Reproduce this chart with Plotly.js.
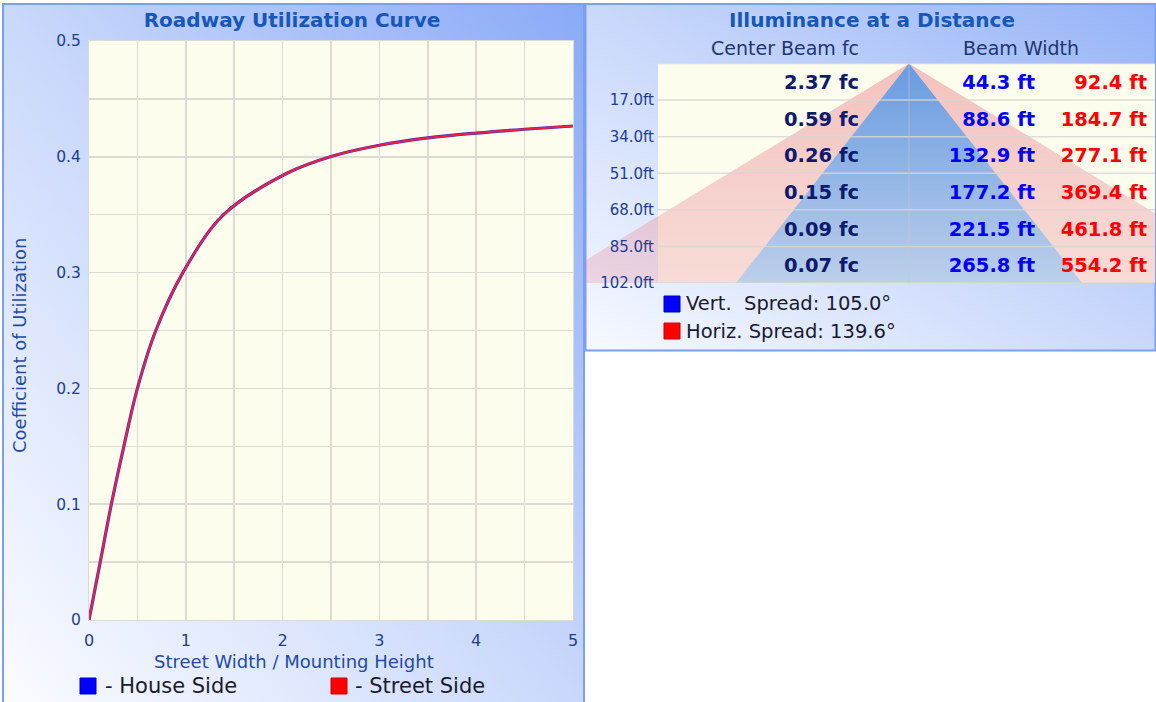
<!DOCTYPE html>
<html><head><meta charset="utf-8">
<script src="https://cdn.plot.ly/plotly-3.0.1.min.js"></script>
<style>html,body{margin:0;padding:0;background:#fff;overflow:hidden}#chart{width:1156px;height:702px}</style>
</head><body><div id="chart"></div>
<script>
// ---------- DATA ----------
// Roadway utilization curve
const widthRatio = [0, 0.116, 0.231, 0.36, 0.5, 0.69, 0.97, 1.39, 2.05, 2.5, 3.0, 3.5, 4.0, 4.5, 5.0];
const cuHouseSide = [0, 0.050, 0.100, 0.150, 0.200, 0.250, 0.300, 0.350, 0.386, 0.4003, 0.4100, 0.4163, 0.4205, 0.4238, 0.4266];
const cuStreetSide = [0, 0.050, 0.100, 0.150, 0.200, 0.250, 0.300, 0.350, 0.386, 0.4003, 0.4100, 0.4163, 0.4205, 0.4238, 0.4266];
const seriesNames = ['- House Side', '- Street Side'];

// Illuminance at a distance
const distancesFt = [17, 34, 51, 68, 85, 102];
const distanceLabels = ['17.0ft', '34.0ft', '51.0ft', '68.0ft', '85.0ft', '102.0ft'];
const centerBeamFc = [2.37, 0.59, 0.26, 0.15, 0.09, 0.07];
const vertBeamWidthFt = [44.3, 88.6, 132.9, 177.2, 221.5, 265.8];
const horizBeamWidthFt = [92.4, 184.7, 277.1, 369.4, 461.8, 554.2];
const vertSpreadDeg = 105.0;
const horizSpreadDeg = 139.6;

// ---------- LAYOUT HELPERS ----------
const W = 1156, H = 702;
const px = v => v / W;            // pixel x -> paper
const py = v => 1 - v / H;        // pixel y -> paper
const FONT = 'DejaVu Sans, Verdana, sans-serif';
const AXIS_BLUE = '#1c3f94';
const TITLE_BLUE = '#1657b8';
const LABEL_BLUE = '#1f4ba5';

// right panel geometry (pixels)
const CENTER_PX = 909, PX_PER_FT = 1.302;
const ft = p => (p - CENTER_PX) / PX_PER_FT;
const RIGHT_L = 586, RIGHT_R = 1155, TABLE_L = 658, TABLE_T = 63.5, TABLE_B = 283;
const maxD = distancesFt[distancesFt.length - 1];
const rowH = distancesFt[0];

function gradientImage(c0, c1) {
  const svg = '<svg xmlns="http://www.w3.org/2000/svg" width="100" height="100" viewBox="0 0 100 100" preserveAspectRatio="none">' +
    '<defs><linearGradient id="g" x1="0" y1="1" x2="1" y2="0">' +
    '<stop offset="0" stop-color="' + c0 + '"/><stop offset="0.5" stop-color="#c9d8fb"/><stop offset="1" stop-color="' + c1 + '"/></linearGradient></defs>' +
    '<rect x="0" y="0" width="100" height="100" fill="url(#g)"/></svg>';
  return 'data:image/svg+xml;charset=utf-8,' + encodeURIComponent(svg);
}

// ---------- TRACES ----------
const traces = [];
traces.push({
  x: widthRatio, y: cuHouseSide, name: seriesNames[0], type: 'scatter', mode: 'lines',
  line: {color: '#3a2fd0', width: 3.2, shape: 'spline', smoothing: 1},
  xaxis: 'x', yaxis: 'y', hoverinfo: 'skip'
});
traces.push({
  x: widthRatio, y: cuStreetSide, name: seriesNames[1], type: 'scatter', mode: 'lines',
  line: {color: '#f0203c', width: 2, shape: 'spline', smoothing: 1},
  xaxis: 'x', yaxis: 'y', hoverinfo: 'skip'
});

// beam triangles
const hHalf = horizBeamWidthFt[horizBeamWidthFt.length - 1] / 2;
const vHalf = vertBeamWidthFt[vertBeamWidthFt.length - 1] / 2;
traces.push({
  x: [0, -hHalf, hHalf, 0], y: [0, maxD, maxD, 0], type: 'scatter', mode: 'none',
  fill: 'toself',
  fillgradient: {type: 'vertical', start: 0, stop: maxD,
    colorscale: [[0, 'rgba(232,120,130,0.45)'], [1, 'rgba(235,150,165,0.33)']]},
  xaxis: 'x2', yaxis: 'y2', hoverinfo: 'skip'
});
traces.push({
  x: [0, -vHalf, vHalf, 0], y: [0, maxD, maxD, 0], type: 'scatter', mode: 'none',
  fill: 'toself',
  fillgradient: {type: 'vertical', start: 0, stop: maxD,
    colorscale: [[0, 'rgba(104,155,224,1)'], [1, 'rgba(188,207,234,1)']]},
  xaxis: 'x2', yaxis: 'y2', hoverinfo: 'skip'
});

const rowMid = distancesFt.map(d => d - rowH / 2 + 1.2);
traces.push({
  x: distancesFt.map(() => ft(859)), y: rowMid, type: 'scatter', mode: 'text',
  text: centerBeamFc.map(v => v.toFixed(2) + ' fc'), textposition: 'middle left',
  textfont: {family: FONT, size: 19.5, color: '#0d1a6e', weight: 'bold'},
  xaxis: 'x2', yaxis: 'y3', hoverinfo: 'skip', cliponaxis: false
});
traces.push({
  x: distancesFt.map(() => ft(1035)), y: rowMid, type: 'scatter', mode: 'text',
  text: vertBeamWidthFt.map(v => v.toFixed(1) + ' ft'), textposition: 'middle left',
  textfont: {family: FONT, size: 19.5, color: '#0000ff', weight: 'bold'},
  xaxis: 'x2', yaxis: 'y2', hoverinfo: 'skip', cliponaxis: false
});
traces.push({
  x: distancesFt.map(() => ft(1147)), y: rowMid, type: 'scatter', mode: 'text',
  text: horizBeamWidthFt.map(v => v.toFixed(1) + ' ft'), textposition: 'middle left',
  textfont: {family: FONT, size: 19.5, color: '#ff0000', weight: 'bold'},
  xaxis: 'x2', yaxis: 'y2', hoverinfo: 'skip', cliponaxis: false
});

// ---------- SHAPES ----------
const shapes = [];
// panel borders
shapes.push({type: 'rect', xref: 'paper', yref: 'paper', x0: px(3), x1: px(584), y0: py(4), y1: py(710),
  line: {color: '#7c9ef3', width: 2}, fillcolor: 'rgba(0,0,0,0)', layer: 'below'});
shapes.push({type: 'rect', xref: 'paper', yref: 'paper', x0: px(585.5), x1: px(1155.5), y0: py(4), y1: py(350.5),
  line: {color: '#7c9ef3', width: 2}, fillcolor: 'rgba(0,0,0,0)', layer: 'below'});
// left plot background
shapes.push({type: 'rect', xref: 'x domain', yref: 'y domain', x0: 0, x1: 1, y0: 0, y1: 1,
  fillcolor: '#fdfdee', line: {width: 0}, layer: 'below'});
// table background
shapes.push({type: 'rect', xref: 'paper', yref: 'y2', x0: px(TABLE_L), x1: px(RIGHT_R), y0: 0, y1: maxD,
  fillcolor: '#fdfdee', line: {width: 0}, layer: 'below'});
// row lines
[0].concat(distancesFt).forEach(d => {
  shapes.push({type: 'line', xref: 'paper', yref: 'y2', x0: px(TABLE_L), x1: px(RIGHT_R), y0: d, y1: d,
    line: {color: 'rgba(215,215,210,0.85)', width: 1.5}, layer: 'above'});
});
// center line
shapes.push({type: 'line', xref: 'x2', yref: 'y2', x0: 0, x1: 0, y0: 0, y1: maxD,
  line: {color: 'rgba(200,200,200,0.6)', width: 1}, layer: 'above'});
// legend swatches
const sw = (x, y, c) => ({type: 'rect', xref: 'paper', yref: 'paper', x0: px(x), x1: px(x + 16), y0: py(y + 16), y1: py(y),
  fillcolor: c, line: {color: c === '#0000ff' ? '#0000c0' : '#d00000', width: 1}, layer: 'above'});
shapes.push(sw(80, 678, '#0000ff'));
shapes.push(sw(331, 678, '#ff0000'));
shapes.push(sw(664, 296, '#0000ff'));
shapes.push(sw(664, 323, '#ff0000'));

// ---------- ANNOTATIONS ----------
const ann = [];
const txt = (x, y, text, opts) => Object.assign({xref: 'paper', yref: 'paper', x: px(x), y: py(y), text: text,
  showarrow: false, xanchor: 'left', yanchor: 'middle', font: {family: FONT, size: 17, color: '#1a1a30'}}, opts || {});
// axis titles (centred on the panel, as in the original)
ann.push(txt(294, 661, 'Street Width / Mounting Height', {xanchor: 'center', font: {family: FONT, size: 18, color: LABEL_BLUE}}));
ann.push(txt(20, 346, 'Coefficient of Utilization', {xanchor: 'center', textangle: -90, font: {family: FONT, size: 18, color: LABEL_BLUE}}));
// right panel title / headers
ann.push(txt(872, 20, 'Illuminance at a Distance', {xanchor: 'center', font: {family: FONT, size: 20, color: TITLE_BLUE, weight: 'bold'}}));
ann.push(txt(785, 48, 'Center Beam fc', {xanchor: 'center', font: {family: FONT, size: 19, color: '#1e3672'}}));
ann.push(txt(1021, 48, 'Beam Width', {xanchor: 'center', font: {family: FONT, size: 19, color: '#1e3672'}}));
// legends
ann.push(txt(103, 686, seriesNames[0], {font: {family: FONT, size: 21, color: '#1a1a30'}}));
ann.push(txt(353, 686, seriesNames[1], {font: {family: FONT, size: 21, color: '#1a1a30'}}));
ann.push(txt(684, 304, 'Vert.  Spread: ' + vertSpreadDeg.toFixed(1) + '°', {font: {family: FONT, size: 19.5, color: '#1a1a30'}}));
ann.push(txt(684, 332, 'Horiz. Spread: ' + horizSpreadDeg.toFixed(1) + '°', {font: {family: FONT, size: 19.5, color: '#1a1a30'}}));

// ---------- LAYOUT ----------
const layout = {
  width: W, height: H,
  margin: {l: 0, r: 0, t: 0, b: 0, pad: 0},
  paper_bgcolor: '#ffffff', plot_bgcolor: 'rgba(0,0,0,0)',
  showlegend: false, hovermode: false,
  font: {family: FONT, color: AXIS_BLUE},
  title: {text: 'Roadway Utilization Curve', x: px(292), xanchor: 'center', y: py(20), yanchor: 'middle',
    font: {family: FONT, size: 20, color: TITLE_BLUE, weight: 'bold'}},
  images: [
    {source: gradientImage('#fbfcff', '#8aaaf7'), xref: 'paper', yref: 'paper', x: px(3), y: py(4),
      sizex: px(581), sizey: 706 / H, xanchor: 'left', yanchor: 'top', sizing: 'stretch', layer: 'below'},
    {source: gradientImage('#f6f9ff', '#95b3f7'), xref: 'paper', yref: 'paper', x: px(585), y: py(4),
      sizex: px(571), sizey: 347 / H, xanchor: 'left', yanchor: 'top', sizing: 'stretch', layer: 'below'}
  ],
  xaxis: {
    domain: [px(89), px(573)], range: [0, 5], dtick: 1, tick0: 0, anchor: 'y',
    showgrid: true, gridcolor: '#dedbd3', gridwidth: 1.5,
    minor: {dtick: 0.5, showgrid: true, gridcolor: '#dedbd3', gridwidth: 1.5},
    zeroline: false, showline: true, mirror: true, linecolor: '#dcdad2', linewidth: 1,
    ticks: 'outside', ticklen: 6, tickcolor: 'rgba(0,0,0,0)',
    tickfont: {family: FONT, size: 16, color: AXIS_BLUE}
  },
  yaxis: {
    domain: [py(620), py(41)], range: [0, 0.5], dtick: 0.1, tick0: 0, anchor: 'x',
    showgrid: true, gridcolor: '#dedbd3', gridwidth: 1.5,
    minor: {dtick: 0.05, showgrid: true, gridcolor: '#dedbd3', gridwidth: 1.5},
    zeroline: false, showline: true, mirror: true, linecolor: '#dcdad2', linewidth: 1,
    ticks: 'outside', ticklen: 4, tickcolor: 'rgba(0,0,0,0)',
    tickfont: {family: FONT, size: 15.5, color: AXIS_BLUE}
  },
  xaxis2: {
    domain: [px(RIGHT_L), px(RIGHT_R)], range: [ft(RIGHT_L), ft(RIGHT_R)], anchor: 'y2',
    showgrid: false, zeroline: false, showline: false, showticklabels: false, ticks: ''
  },
  yaxis2: {
    domain: [py(TABLE_B), py(TABLE_T)], range: [maxD, 0], anchor: 'x2',
    showgrid: false, zeroline: false, showline: false, showticklabels: false, ticks: ''
  },
  yaxis3: {
    overlaying: 'y2', anchor: 'free', position: px(TABLE_L), side: 'left', range: [maxD, 0],
    tickmode: 'array', tickvals: distancesFt, ticktext: distanceLabels,
    showgrid: false, zeroline: false, showline: false, ticks: 'outside', ticklen: 1, tickcolor: 'rgba(0,0,0,0)',
    tickfont: {family: FONT, size: 15, color: AXIS_BLUE}
  },
  shapes: shapes,
  annotations: ann
};

Plotly.newPlot('chart', traces, layout, {staticPlot: true, displayModeBar: false});
</script>
</body></html>
